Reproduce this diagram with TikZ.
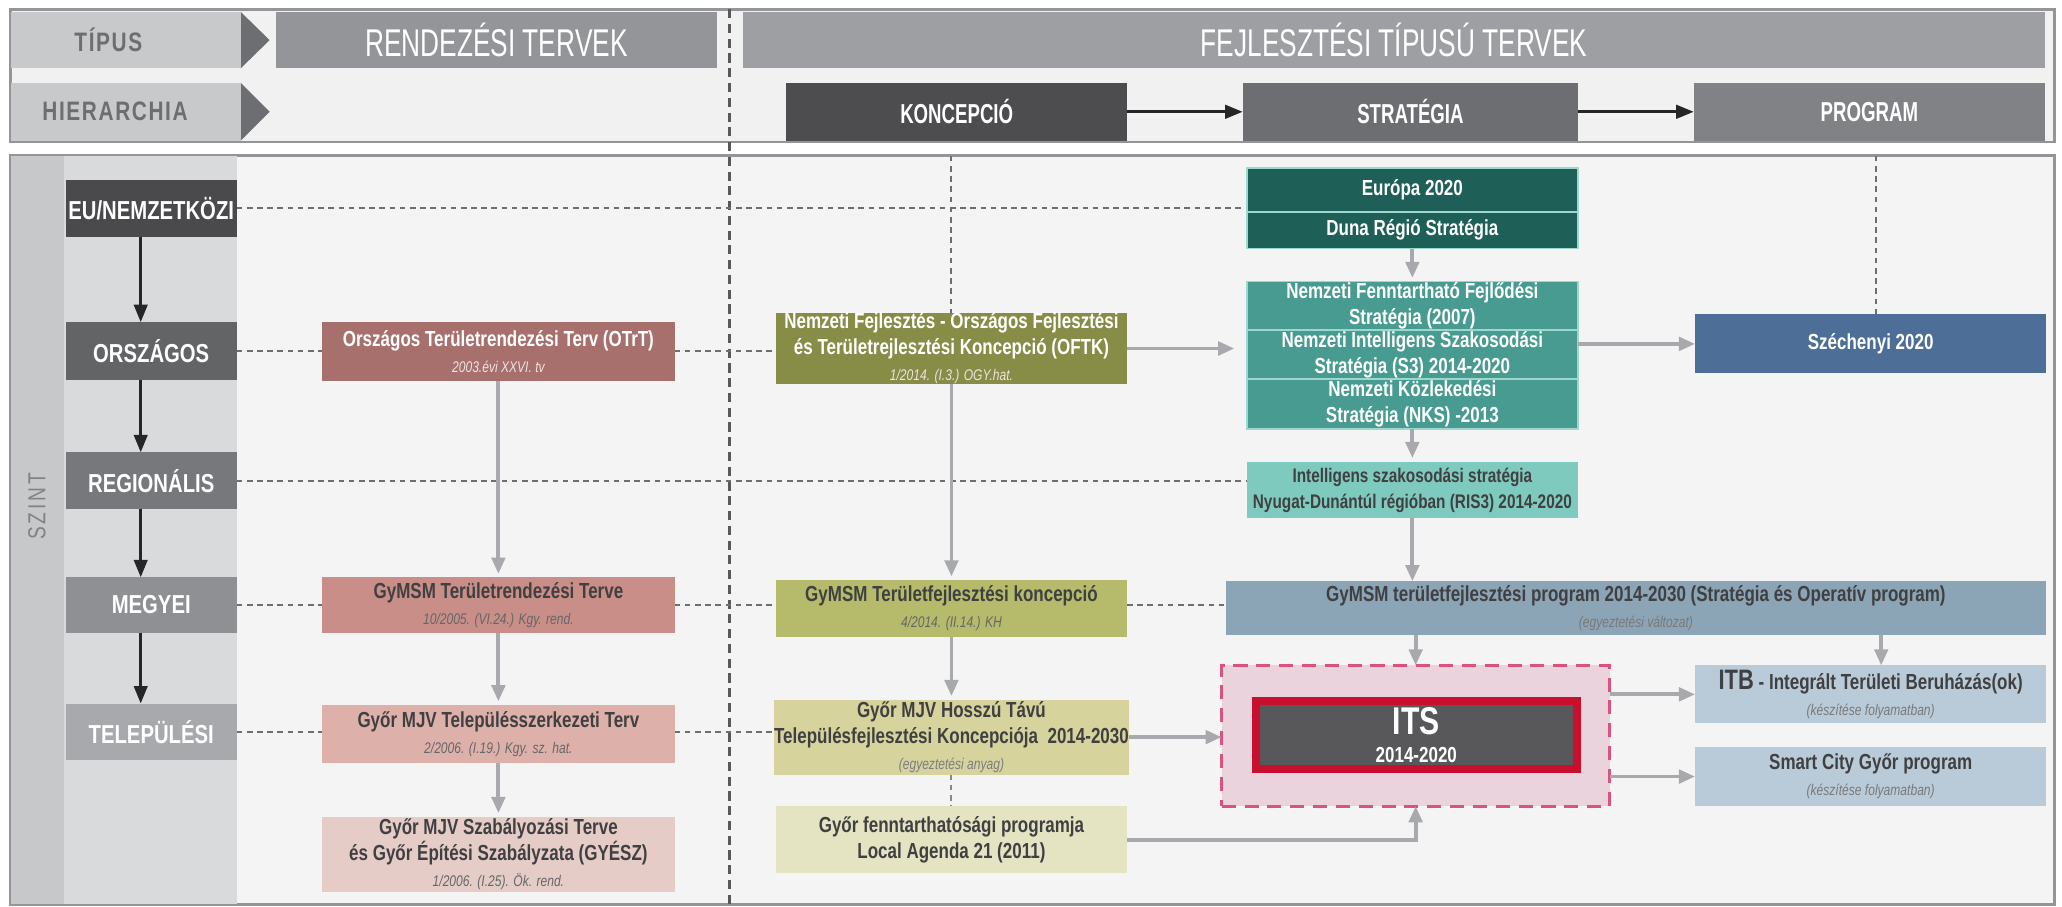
\documentclass[tikz,border=0pt]{standalone}
\usepackage{fontspec}
\setmainfont{Liberation Sans}[FakeStretch=0.78]
\newfontfamily\narrowf{Liberation Sans}[FakeStretch=0.68]
\usetikzlibrary{fit,arrows.meta,calc}
\pgfdeclarelayer{bgl}
\pgfdeclarelayer{lnl}
\pgfsetlayers{bgl,lnl,main}
\definecolor{hdrbg}{HTML}{F1F1F2}
\definecolor{framegray}{HTML}{939598}
\definecolor{lowbg}{HTML}{F4F4F5}
\definecolor{szintbg}{HTML}{C7C8CA}
\definecolor{szinttx}{HTML}{808285}
\definecolor{lvlbg}{HTML}{D9DADC}
\definecolor{labgray}{HTML}{6D6E71}
\definecolor{labfill}{HTML}{C8C9CB}
\definecolor{trigray}{HTML}{6D6E71}
\definecolor{rendgray}{HTML}{939598}
\definecolor{fejlgray}{HTML}{9D9FA2}
\definecolor{koncgray}{HTML}{4D4D4F}
\definecolor{stratgray}{HTML}{6D6E71}
\definecolor{proggray}{HTML}{808285}
\definecolor{euc}{HTML}{4A4A4C}
\definecolor{orc}{HTML}{636466}
\definecolor{regc}{HTML}{77787B}
\definecolor{megc}{HTML}{8E9093}
\definecolor{telc}{HTML}{A7A9AC}
\definecolor{otrtc}{HTML}{A8706C}
\definecolor{gtc}{HTML}{C88E87}
\definecolor{ttc}{HTML}{DDB1A9}
\definecolor{szc}{HTML}{E5CCC7}
\definecolor{oftkc}{HTML}{878C47}
\definecolor{gkc}{HTML}{B5BB6A}
\definecolor{hkc}{HTML}{D6D39D}
\definecolor{lac}{HTML}{E5E4C2}
\definecolor{eurc}{HTML}{1E5F58}
\definecolor{nsc}{HTML}{489B90}
\definecolor{risc}{HTML}{7ECABE}
\definecolor{sepc}{HTML}{9ED7CE}
\definecolor{szechc}{HTML}{4D6E97}
\definecolor{gpc}{HTML}{8BA4B6}
\definecolor{itbc}{HTML}{B9CBD8}
\definecolor{itsbg}{HTML}{EBD3DD}
\definecolor{itsdash}{HTML}{D9537E}
\definecolor{itsin}{HTML}{58585A}
\definecolor{itsred}{HTML}{C8102E}
\definecolor{conn}{HTML}{A7A9AC}
\definecolor{dashc}{HTML}{6D6E71}
\definecolor{txtd}{HTML}{404042}
\definecolor{subd}{HTML}{7D7D80}
\definecolor{subw}{HTML}{EEE3E0}
\newcommand{\subtx}[2][subd]{{\fontsize{4.4}{5}\selectfont\mdseries\itshape\color{#1}#2}}
% box from corners: style, name, x1, y1, x2, y2, text
\newcommand{\bxnode}[7]{%
  \pgfmathsetmacro{\bxw}{(#5)-(#3)}%
  \pgfmathsetmacro{\bxh}{(#6)-(#4)}%
  \node[#1,minimum width=\bxw*0.01315cm,minimum height=\bxh*0.01315cm,anchor=center] (#2) at ({((#3)+(#5))/2},{((#4)+(#6))/2}) {#7};}
\begin{document}
\begin{tikzpicture}[x=0.01315cm,y=-0.01315cm,
 every node/.style={inner sep=0pt,outer sep=0pt},
 bx/.style={align=center,font=\fontsize{6.2}{7.4}\selectfont\bfseries,text=txtd},
 wbx/.style={bx,text=white},
 lvl/.style={font=\fontsize{7.4}{8}\selectfont\bfseries,text=white},
 hlab/.style={fill=labfill,font=\fontsize{7.6}{8}\selectfont\bfseries\addfontfeature{LetterSpace=6},text=labgray},
 hbig/.style={font=\narrowf\fontsize{11}{12}\selectfont,text=white},
 hiera/.style={font=\narrowf\fontsize{7.8}{8}\selectfont\bfseries,text=white},
 blk/.style={draw=black!85,line width=0.9pt,-{Triangle[length=5pt,width=3.8pt]}},
 garr/.style={draw=conn,line width=1.1pt,-{Triangle[length=4.6pt,width=3.8pt]}},
 dsh/.style={draw=dashc,line width=0.55pt,dash pattern=on 1.6pt off 1.3pt},
 mdsh/.style={draw=dashc!80!black,line width=0.8pt,dash pattern=on 2.6pt off 1.6pt},
]
\useasboundingbox (0,0) rectangle (1568,689);
\begin{pgfonlayer}{bgl}
\fill[white] (0,0) rectangle (1568,689);
\filldraw[fill=hdrbg,draw=framegray,line width=0.8pt] (8,7) rectangle (1562,108);
\filldraw[fill=lowbg,draw=framegray,line width=0.8pt] (8,118) rectangle (1562,688);
\fill[szintbg] (8.6,118.6) rectangle (49,687.4);
\fill[lvlbg] (49,118.6) rectangle (180,687.4);
\fill[trigray] (183,9) -- (205,30.5) -- (183,52) -- cycle;
\fill[trigray] (183,63) -- (205,85) -- (183,107) -- cycle;
\end{pgfonlayer}
\coordinate (lowtop) at (0,118.5);
\coordinate (dtop) at (555,7);
\coordinate (dbot) at (555,689);
% header
\bxnode{hlab}{tipus}{8}{9}{183}{52}{\kern-9.8pt TÍPUS}
\bxnode{hlab}{hierl}{8}{63}{183}{107}{\kern-6pt HIERARCHIA}
\bxnode{hbig,fill=rendgray}{rend}{210}{9}{545}{52}{RENDEZÉSI TERVEK}
\bxnode{hbig,fill=fejlgray}{fejl}{565}{9}{1555}{52}{FEJLESZTÉSI TÍPUSÚ TERVEK}
\bxnode{hiera,fill=koncgray}{konc}{598}{63}{857}{107}{KONCEPCIÓ}
\bxnode{hiera,fill=stratgray}{strat}{945}{63}{1200}{107}{STRATÉGIA}
\bxnode{hiera,fill=proggray}{prog}{1288}{63}{1555}{107}{PROGRAM}
% SZINT
\node[rotate=90,font=\fontsize{7}{8}\selectfont\addfontfeature{LetterSpace=12},text=szinttx] (szint) at (28,385) {SZINT};
% levels
\bxnode{lvl,fill=euc}{eu}{50}{137}{180}{180}{EU/NEMZETKÖZI}
\bxnode{lvl,fill=orc}{orsz}{50}{245}{180}{289}{ORSZÁGOS}
\bxnode{lvl,fill=regc}{reg}{50}{344}{180}{387}{REGIONÁLIS}
\bxnode{lvl,fill=megc}{meg}{50}{439}{180}{481}{MEGYEI}
\bxnode{lvl,fill=telc}{tel}{50}{535}{180}{578}{TELEPÜLÉSI}
% column 1
\bxnode{wbx,fill=otrtc}{otrt}{245}{245}{513}{290}{Országos Területrendezési Terv (OTrT)\\\subtx[subw]{2003.évi XXVI. tv}}
\bxnode{bx,fill=gtc}{gymsmT}{245}{439}{513}{481}{GyMSM Területrendezési Terve\\\subtx[txtd!80]{10/2005. (VI.24.) Kgy. rend.}}
\bxnode{bx,fill=ttc}{telT}{245}{536}{513}{580}{Győr MJV Településszerkezeti Terv\\\subtx[txtd!80]{2/2006. (I.19.) Kgy. sz. hat.}}
\bxnode{bx,fill=szc}{szab}{245}{621}{513}{678}{Győr MJV Szabályozási Terve\\és Győr Építési Szabályzata (GYÉSZ)\\\subtx[txtd!80]{1/2006. (I.25). Ök. rend.}}
% column 2
\bxnode{wbx,fill=oftkc}{oftk}{590}{239}{857}{291}{Nemzeti Fejlesztés - Országos Fejlesztési\\és Területrejlesztési Koncepció (OFTK)\\\subtx[subw]{1/2014. (I.3.) OGY.hat.}}
\bxnode{bx,fill=gkc}{gymsmK}{590}{441}{857}{484}{GyMSM Területfejlesztési koncepció\\\subtx[txtd!80]{4/2014. (II.14.) KH}}
\bxnode{bx,fill=hkc}{hossz}{590}{532}{857}{589}{Győr MJV Hosszú Távú\\Településfejlesztési Koncepciója~~2014-2030\\\subtx{(egyeztetési anyag)}}
\bxnode{bx,fill=lac}{local}{590}{613}{857}{664}{Győr fenntarthatósági programja\\Local Agenda 21 (2011)}
% column 3
\bxnode{wbx,fill=eurc,draw=sepc,line width=0.5pt}{europa}{948}{128}{1200}{161}{Európa 2020}
\bxnode{wbx,fill=eurc,draw=sepc,line width=0.5pt}{duna}{948}{161}{1200}{189}{Duna Régió Stratégia}
\bxnode{wbx,fill=nsc,draw=sepc,line width=0.5pt}{nffs}{948}{214}{1200}{251}{Nemzeti Fenntartható Fejlődési\\Stratégia (2007)}
\bxnode{wbx,fill=nsc,draw=sepc,line width=0.5pt}{s3}{948}{251}{1200}{288}{Nemzeti Intelligens Szakosodási\\Stratégia (S3) 2014-2020}
\bxnode{wbx,fill=nsc,draw=sepc,line width=0.5pt}{nks}{948}{288}{1200}{326}{Nemzeti Közlekedési\\Stratégia (NKS) -2013}
\node[fit=(nffs) (nks)] (natstrat) {};
\bxnode{bx,fill=risc,font=\fontsize{5.6}{7.4}\selectfont\bfseries}{ris3}{948}{351}{1200}{394}{Intelligens szakosodási stratégia\\Nyugat-Dunántúl régióban (RIS3) 2014-2020}
\bxnode{wbx,fill=szechc}{szech}{1289}{239}{1556}{284}{Széchenyi 2020}
\bxnode{bx,fill=gpc}{gymsmP}{932}{442}{1556}{483}{GyMSM területfejlesztési program 2014-2030 (Stratégia és Operatív program)\\\subtx[txtd!70]{(egyeztetési változat)}}
\node[fit={(929,506) (1224,613)},fill=itsbg,draw=itsdash,line width=0.9pt,dash pattern=on 4pt off 2.5pt] (itsbox) {};
\bxnode{fill=itsin,draw=itsred,line width=2.2pt,align=center,text=white,font=\fontsize{6.2}{7}\selectfont\bfseries}{its}{955}{533}{1199}{585}{{\fontsize{11}{11}\selectfont ITS}\\[0.8pt]2014-2020}
\bxnode{bx,fill=itbc}{itb}{1289}{506}{1556}{550}{{\fontsize{8}{8}\selectfont ITB} - Integrált Területi Beruházás(ok)\\\subtx[txtd!70]{(készítése folyamatban)}}
\bxnode{bx,fill=itbc}{smart}{1289}{568}{1556}{613}{Smart City Győr program\\\subtx[txtd!70]{(készítése folyamatban)}}
% lines layer
\begin{pgfonlayer}{lnl}
\draw[mdsh] (dtop) -- (dbot);
\draw[dsh] (eu.east) -- (eu.east -| europa.west);
\draw[dsh] (orsz.east) -- (orsz.east -| otrt.west);
\draw[dsh] (orsz.east -| otrt.east) -- (orsz.east -| oftk.west);
\draw[dsh] (reg.east) -- (reg.east -| ris3.west);
\draw[dsh] (meg.east) -- (meg.east -| gymsmT.west);
\draw[dsh] (meg.east -| gymsmT.east) -- (meg.east -| gymsmK.west);
\draw[dsh] (meg.east -| gymsmK.east) -- (meg.east -| gymsmP.west);
\draw[dsh] (tel.east) -- (tel.east -| telT.west);
\draw[dsh] (tel.east -| telT.east) -- (tel.east -| hossz.west);
\draw[dsh] (oftk.north |- lowtop) -- (oftk.north);
\draw[dsh] ($(szech.north |- lowtop)+(4,0)$) -- ($(szech.north)+(4,0)$);
\draw[dsh,draw=conn!80!black] (hossz.south) -- (local.north);
\end{pgfonlayer}
% header arrows
\draw[blk] (konc.east) -- (strat.west);
\draw[blk] (strat.east) -- (prog.west);
% level arrows
\draw[blk] ($(eu.south)+(-8,0)$) -- ($(orsz.north)+(-8,0)$);
\draw[blk] ($(orsz.south)+(-8,0)$) -- ($(reg.north)+(-8,0)$);
\draw[blk] ($(reg.south)+(-8,0)$) -- ($(meg.north)+(-8,0)$);
\draw[blk] ($(meg.south)+(-8,0)$) -- ($(tel.north)+(-8,0)$);
% gray arrows
\draw[garr,shorten >=1pt] (otrt.south) -- (gymsmT.north);
\draw[garr,shorten >=1pt] (gymsmT.south) -- (telT.north);
\draw[garr,shorten >=1pt] (telT.south) -- (szab.north);
\draw[garr,shorten >=1pt] (oftk.south) -- (gymsmK.north);
\draw[garr,shorten >=1pt] (gymsmK.south) -- (hossz.north);
\draw[garr,shorten >=1pt] (duna.south) -- (nffs.north);
\draw[garr,shorten >=1pt] (nks.south) -- (ris3.north);
\draw[garr] (ris3.south) -- (ris3.south |- gymsmP.north);
\draw[garr,shorten >=3.5pt] (oftk.east) -- (oftk.east -| natstrat.west);
\draw[garr] (szech.west -| natstrat.east) -- (szech.west);
\draw[garr] (gymsmP.south -| itsbox.north) -- (itsbox.north);
\draw[garr] ($(gymsmP.south -| itb.north)+(8,0)$) -- ($(itb.north)+(8,0)$);
\draw[garr] (hossz.east) -- (hossz.east -| itsbox.west);
\draw[garr] (itb.west -| itsbox.east) -- (itb.west);
\draw[garr] (smart.west -| itsbox.east) -- (smart.west);
\draw[garr] (local.east) -| (itsbox.south);
\end{tikzpicture}
\end{document}
